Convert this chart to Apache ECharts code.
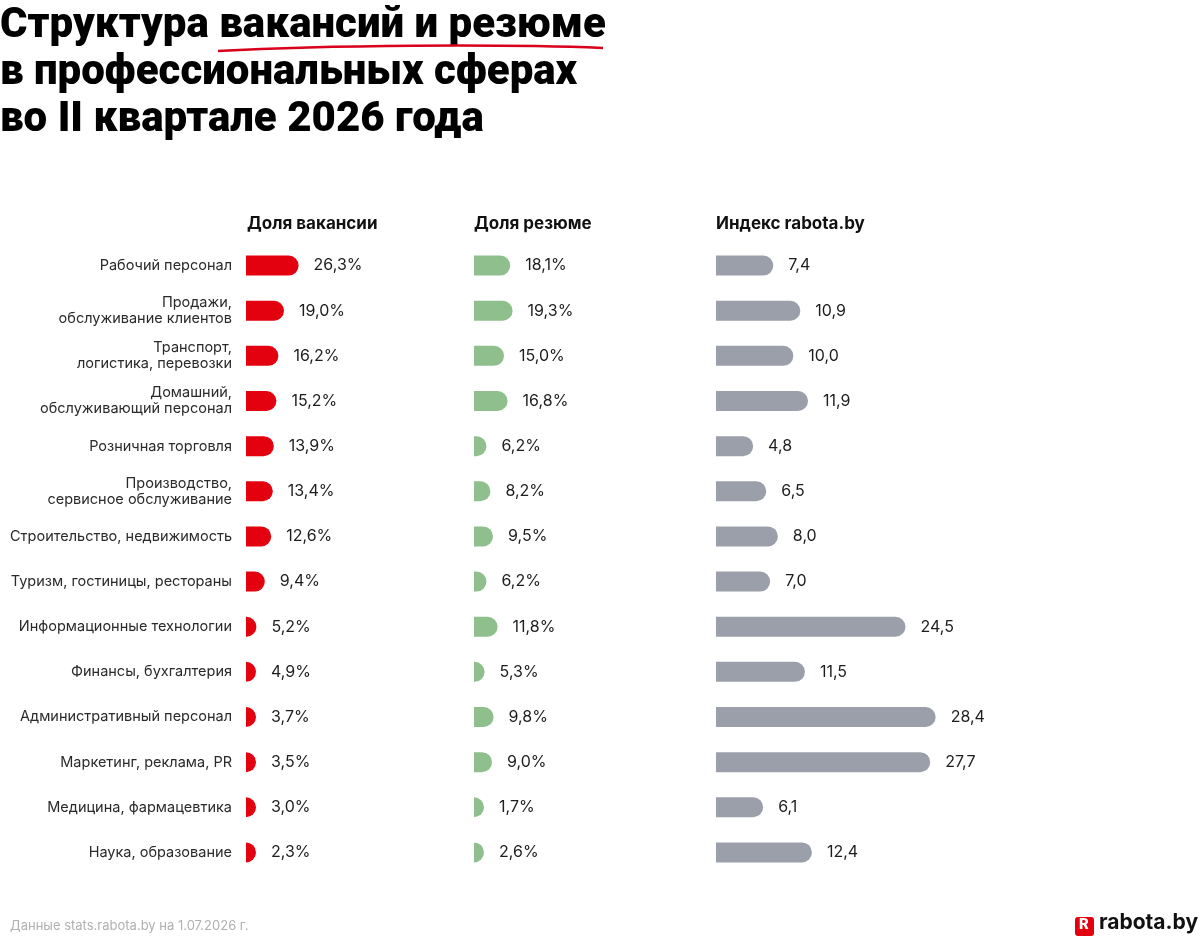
<!DOCTYPE html>
<html>
<head>
<meta charset="utf-8">
<title>Структура вакансий и резюме</title>
<script src="https://cdn.jsdelivr.net/npm/echarts@6/dist/echarts.min.js"></script>
<style>
  html, body { margin: 0; padding: 0; background: #fff; }
  #chart { width: 1200px; height: 938px; }
</style>
</head>
<body>
<div id="chart"></div>
<script>
// категории (сверху вниз)
var categories = [
  'Рабочий персонал',
  'Продажи,\nобслуживание клиентов',
  'Транспорт,\nлогистика, перевозки',
  'Домашний,\nобслуживающий персонал',
  'Розничная торговля',
  'Производство,\nсервисное обслуживание',
  'Строительство, недвижимость',
  'Туризм, гостиницы, рестораны',
  'Информационные технологии',
  'Финансы, бухгалтерия',
  'Административный персонал',
  'Маркетинг, реклама, PR',
  'Медицина, фармацевтика',
  'Наука, образование'
]
var vacancyShare = [26.3, 19.0, 16.2, 15.2, 13.9, 13.4, 12.6, 9.4, 5.2, 4.9, 3.7, 3.5, 3.0, 2.3]
var resumeShare = [18.1, 19.3, 15.0, 16.8, 6.2, 8.2, 9.5, 6.2, 11.8, 5.3, 9.8, 9.0, 1.7, 2.6]
var rabotaIndex = [7.4, 10.9, 10.0, 11.9, 4.8, 6.5, 8.0, 7.0, 24.5, 11.5, 28.4, 27.7, 6.1, 12.4]
var columnTitles = ['Доля вакансии', 'Доля резюме', 'Индекс rabota.by']

var chart = echarts.init(document.getElementById('chart'))

var FONT = 'Inter, "Noto Sans", sans-serif'
var gridTop = 243
var gridHeight = 632

function fmt(v, pct) {
    return v.toFixed(1).replace('.', ',') + (pct ? '%' : '')
}

function barSeries(idx, data, color, pct) {
    return {
        type: 'bar',
        xAxisIndex: idx,
        yAxisIndex: idx,
        data: data,
        barWidth: 20,
        barMinHeight: 10, // маленькие значения — полукруг
        itemStyle: {
            color: color,
            borderRadius: [0, 10, 10, 0] //скругление справа
        },
        label: {
            show: true,
            position: 'right',
            distance: 15,
            color: '#1d1d1d',
            fontFamily: FONT,
            fontSize: 16,
            formatter: function (p) { return fmt(p.value, pct) }
        },
        silent: true
    }
}

var option = {
    backgroundColor: '#ffffff',
    animation: false,
    grid: [
        { left: 246, top: gridTop, width: 60, height: gridHeight },
        { left: 474, top: gridTop, width: 60, height: gridHeight },
        { left: 716, top: gridTop, width: 232, height: gridHeight }
    ],
    xAxis: [0, 1, 2].map(function (i) {
        return { gridIndex: i, type: 'value', min: 0, max: 30, show: false }
    }),
    yAxis: [0, 1, 2].map(function (i) {
        return {
            gridIndex: i,
            type: 'category',
            inverse: true,
            data: categories,
            axisLine: { show: false },
            axisTick: { show: false },
            splitLine: { show: false },
            axisLabel: {
                show: i === 0,
                margin: 14,
                color: '#2a2a2a',
                fontFamily: FONT,
                fontSize: 14.5,
                lineHeight: 16,
                align: 'right'
            }
        }
    }),
    series: [
        barSeries(0, vacancyShare, '#e3000f', true),
        barSeries(1, resumeShare, '#8fbf8d', true),
        barSeries(2, rabotaIndex, '#9b9fa9', false)
    ],
    graphic: [
        // заголовок
        {
            type: 'text', left: 0, top: 3,
            style: {
                text: 'Структура вакансий и резюме\nв профессиональных сферах\nво II квартале 2026 года',
                font: '900 42px Roboto, sans-serif',
                lineHeight: 47,
                fill: '#000'
            }
        },
        {
            type: 'bezierCurve',
            shape: { x1: 218, y1: 51, x2: 603, y2: 48, cpx1: 330, cpy1: 45, cpx2: 500, cpy2: 44 },
            style: { stroke: '#d8001a', lineWidth: 2.5, fill: null }
        },
        // заголовки колонок
        { type: 'text', left: 247, top: 215, style: { text: columnTitles[0], font: 'bold 17px ' + FONT, fill: '#111' } },
        { type: 'text', left: 474, top: 215, style: { text: columnTitles[1], font: 'bold 17px ' + FONT, fill: '#111' } },
        { type: 'text', left: 716, top: 215, style: { text: columnTitles[2], font: 'bold 17px ' + FONT, fill: '#111' } },
        // источник
        {
            type: 'text', left: 10, top: 920,
            style: { text: 'Данные stats.rabota.by на 1.07.2026 г.', font: '13px ' + FONT, fill: '#b0b0b0' }
        },
        // логотип
        {
            type: 'rect', left: 1075, top: 917,
            shape: { width: 19, height: 19, r: 3 },
            style: { fill: '#e3000f' }
        },
        {
            type: 'text', left: 1079, top: 918,
            style: { text: 'R', font: '900 15px Roboto, sans-serif', fill: '#fff' }
        },
        {
            type: 'text', left: 1099, top: 912,
            style: { text: 'rabota.by', font: 'bold 21px ' + FONT, fill: '#111' }
        }
    ]
}

chart.setOption(option)
</script>
</body>
</html>
